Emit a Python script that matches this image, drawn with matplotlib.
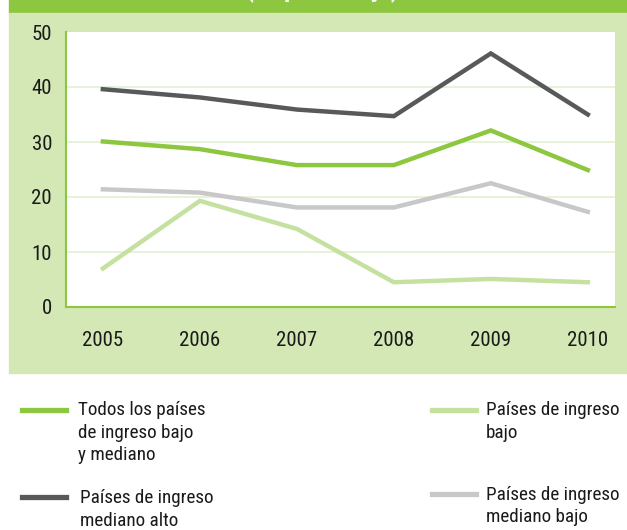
import matplotlib
matplotlib.use("Agg")
import matplotlib.pyplot as plt
from matplotlib import font_manager
from matplotlib.font_manager import FontProperties
from matplotlib.textpath import TextToPath
from matplotlib.lines import Line2D
from matplotlib.patches import Rectangle

# data
years = [2005, 2006, 2007, 2008, 2009, 2010]
todos = [30.1, 28.7, 25.8, 25.8, 32.1, 24.9]
mediano_alto = [39.6, 38.1, 35.9, 34.7, 46.1, 35.0]
mediano_bajo = [21.4, 20.8, 18.1, 18.1, 22.5, 17.3]
bajo = [7.0, 19.3, 14.2, 4.5, 5.1, 4.5]
yticks = [0, 10, 20, 30, 40, 50]

green = '#8DC63F'
dark = '#58595B'
light_green = '#C5E1A0'
gray = '#C8C8C8'
panel = '#D3E8B5'
grid_c = '#E3F1D2'

# the reference uses a condensed face: take the narrowest installed one
names = set(f.name for f in font_manager.fontManager.ttflist)
cands = ['Liberation Sans Narrow', 'Roboto Condensed', 'Roboto', 'Lato',
         'Liberation Sans', 'Inter', 'Noto Sans', 'Open Sans', 'DejaVu Sans']
cands = [c for c in cands if c in names] or ['DejaVu Sans']
t2p = TextToPath()

def width_pt(s, fam, size):
    w, h, d = t2p.get_text_width_height_descent(
        s, FontProperties(family=fam, size=size), ismath=False)
    return w

family = min(cands, key=lambda c: width_pt('Países de ingreso', c, 10))
fonts = [family, 'DejaVu Sans']

# size so that the legend label is ~134 px wide, as in the reference
fs_leg = min(14, 10 * (134 * 0.72) / width_pt('Países de ingreso', family, 10))
# size so that '2005' is ~46 px wide
fs = min(15, 10 * (46 * 0.72) / width_pt('2005', family, 10))

W, H = 627, 530
fig = plt.figure(figsize=(W / 100, H / 100), dpi=100)
fig.patch.set_facecolor('white')

def fx(px):
    return px / W

def fy(py):
    return 1 - py / H

# header band and light panel
fig.patches.append(Rectangle((fx(9), fy(13)), 1 - fx(9), 13 / H,
                             transform=fig.transFigure, color=green, zorder=-2))
fig.patches.append(Rectangle((fx(9), fy(373)), 1 - fx(9), (373 - 13) / H,
                             transform=fig.transFigure, color=panel, zorder=-2))
fig.text(fx(322), fy(-3), '(en porcentaje)', color='white', fontsize=18,
         fontweight='bold', ha='center', va='baseline', family=fonts)

ax = fig.add_axes([fx(66), fy(307), fx(615) - fx(66), (307 - 32) / H])
ax.set_facecolor('white')

lw = 3.2
ax.plot(years, mediano_alto, color=dark, lw=lw, solid_joinstyle='miter', zorder=3)
ax.plot(years, todos, color=green, lw=lw, solid_joinstyle='miter', zorder=3)
ax.plot(years, mediano_bajo, color=gray, lw=lw, solid_joinstyle='miter', zorder=3)
ax.plot(years, bajo, color=light_green, lw=lw, solid_joinstyle='miter', zorder=3)

ax.set_xlim(2004.62, 2010.28)
ax.set_ylim(0, 50)
ax.set_yticks(yticks)
ax.set_xticks(years)
for y in yticks[1:-1]:
    ax.axhline(y, color=grid_c, lw=1.2, zorder=1)

for s in ['top', 'right']:
    ax.spines[s].set_visible(False)
for s in ['left', 'bottom']:
    ax.spines[s].set_color(green)
    ax.spines[s].set_linewidth(1.5)

ax.tick_params(axis='both', length=0, labelsize=fs)
ax.tick_params(axis='y', pad=10)
ax.tick_params(axis='x', pad=17)
for lab in ax.get_xticklabels() + ax.get_yticklabels():
    lab.set_family(fonts)
    lab.set_color('#1a1a1a')

# legend: colour, line x0, x1, line y, text x, lines, first text y
entries = [
    (green, 22, 66, 410, 78, ['Todos los países', 'de ingreso bajo', 'y mediano'], 410),
    (dark, 22, 66, 497, 80, ['Países de ingreso', 'mediano alto'], 498),
    (light_green, 432, 476, 410, 486, ['Países de ingreso', 'bajo'], 410),
    (gray, 432, 476, 494, 486, ['Países de ingreso', 'mediano bajo'], 495),
]
for color, x0, x1, ly, tx, lines, ty in entries:
    fig.add_artist(Line2D([fx(x0), fx(x1)], [fy(ly), fy(ly)], color=color,
                          lw=3.8, transform=fig.transFigure))
    for i, t in enumerate(lines):
        fig.text(fx(tx), fy(ty + i * 22.5), t, fontsize=fs_leg, family=fonts,
                 color='#1a1a1a', ha='left', va='center')

fig.savefig('out.png', dpi=100, facecolor='white')
